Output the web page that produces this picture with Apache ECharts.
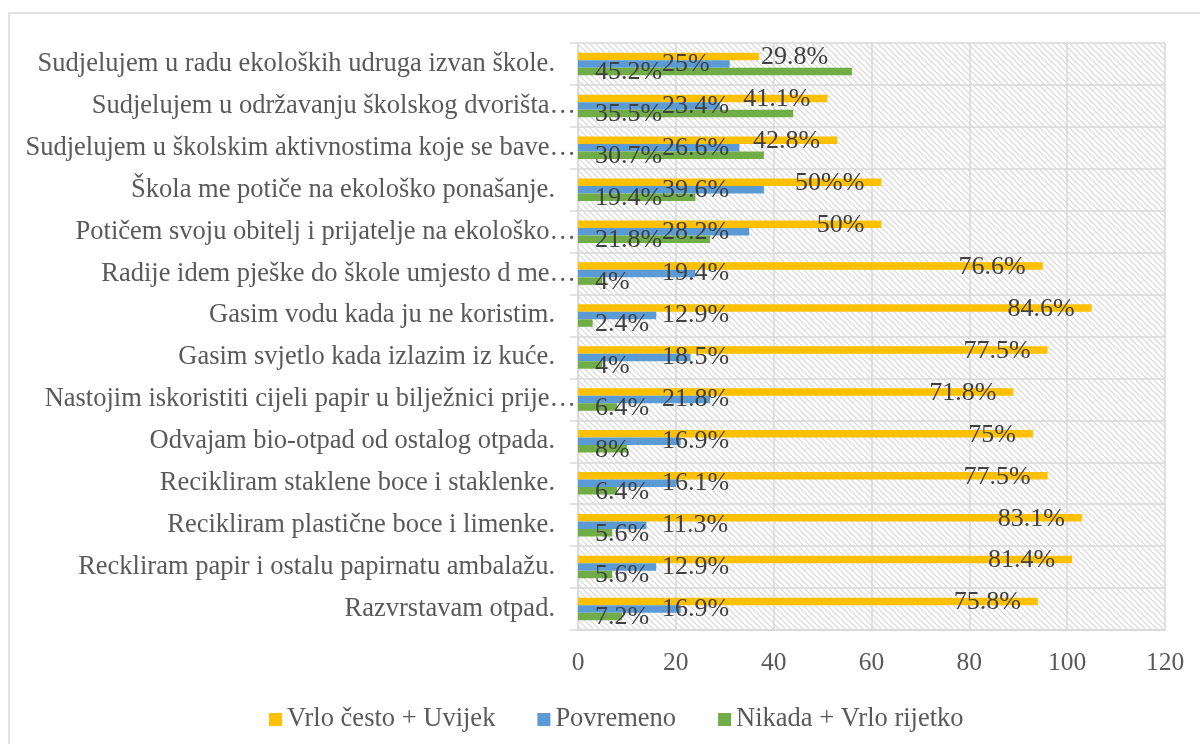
<!DOCTYPE html>
<html>
<head>
<meta charset="utf-8">
<script src="https://cdn.jsdelivr.net/npm/echarts@6/dist/echarts.min.js"></script>
<style>
  html, body { margin: 0; padding: 0; background: #fff; }
  #chart { width: 1200px; height: 744px; }
</style>
</head>
<body>
<div id="chart"></div>
<script>
// categories, top to bottom
var categories = [
  'Sudjelujem u radu ekoloških udruga izvan škole.',
  'Sudjelujem u održavanju školskog dvorišta…',
  'Sudjelujem u školskim aktivnostima koje se bave…',
  'Škola me potiče na ekološko ponašanje.',
  'Potičem svoju obitelj i prijatelje na ekološko…',
  'Radije idem pješke do škole umjesto d me…',
  'Gasim vodu kada ju ne koristim.',
  'Gasim svjetlo kada izlazim iz kuće.',
  'Nastojim iskoristiti cijeli papir u bilježnici prije…',
  'Odvajam bio-otpad od ostalog otpada.',
  'Recikliram staklene boce i staklenke.',
  'Recikliram plastične boce i limenke.',
  'Reckliram papir i ostalu papirnatu ambalažu.',
  'Razvrstavam otpad.'
];

var seriesNames = ['Vrlo često + Uvijek', 'Povremeno', 'Nikada + Vrlo rijetko'];

// bar lengths (number of answers)
var oftenValues = [37, 51, 53, 62, 62, 95, 105, 96, 89, 93, 96, 103, 101, 94];
var sometimesValues = [31, 29, 33, 38, 35, 24, 16, 23, 27, 21, 20, 14, 16, 21];
var rarelyValues = [56, 44, 38, 24, 27, 5, 3, 5, 8, 10, 8, 7, 7, 9];

// data label texts as printed on the chart
var oftenLabels = ['29.8%', '41.1%', '42.8%', '50%%', '50%', '76.6%', '84.6%', '77.5%', '71.8%', '75%', '77.5%', '83.1%', '81.4%', '75.8%'];
var sometimesLabels = ['25%', '23.4%', '26.6%', '39.6%', '28.2%', '19.4%', '12.9%', '18.5%', '21.8%', '16.9%', '16.1%', '11.3%', '12.9%', '16.9%'];
var rarelyLabels = ['45.2%', '35.5%', '30.7%', '19.4%', '21.8%', '4%', '2.4%', '4%', '6.4%', '8%', '6.4%', '5.6%', '5.6%', '7.2%'];

var xTicks = [0, 20, 40, 60, 80, 100, 120];

var FONT = '"Liberation Serif", "Times New Roman", serif';
var GRID_COLOR = '#d9d9d9';
var TEXT_COLOR = '#595959';

// diagonal hatch for the plot area
var hatch = document.createElement('canvas');
hatch.width = 6;
hatch.height = 6;
var hc = hatch.getContext('2d');
hc.fillStyle = '#ffffff';
hc.fillRect(0, 0, 6, 6);
hc.strokeStyle = '#d6d6d6';
hc.lineWidth = 1.2;
hc.beginPath();
hc.moveTo(-1, -1); hc.lineTo(7, 7);
hc.moveTo(-1, 5); hc.lineTo(1, 7);
hc.moveTo(5, -1); hc.lineTo(7, 1);
hc.stroke();

var chart = echarts.init(document.getElementById('chart'), null, { renderer: 'canvas' });

function labelFor(texts) {
  return function (p) { return texts[p.dataIndex]; };
}

var labelText = {
  fontFamily: FONT,
  fontSize: 26,
  color: '#404040'
};

var catText = { fontFamily: FONT, fontSize: 26.5, color: TEXT_COLOR };

chart.setOption({
  animation: false,
  textStyle: { fontFamily: FONT },
  graphic: [{
    type: 'rect',
    shape: { x: 9, y: 13, width: 1250, height: 800 },
    style: { fill: 'none', stroke: GRID_COLOR, lineWidth: 1.5 },
    silent: true
  }],
  legend: {
    data: seriesNames,
    top: 701,
    left: 264,
    itemWidth: 13,
    itemHeight: 13,
    itemGap: 42,
    icon: 'rect',
    textStyle: { fontFamily: FONT, fontSize: 26.5, color: TEXT_COLOR }
  },
  grid: {
    left: 578,
    right: 35,
    top: 43,
    bottom: 114,
    show: true,
    borderWidth: 0,
    backgroundColor: { image: hatch, repeat: 'repeat' }
  },
  xAxis: {
    type: 'value',
    min: 0,
    max: 120,
    interval: 20,
    axisLine: { show: true, lineStyle: { color: GRID_COLOR, width: 1.5 } },
    axisTick: { show: false },
    splitLine: { show: true, lineStyle: { color: GRID_COLOR, width: 1.5 } },
    axisLabel: {
      margin: 20,
      fontFamily: FONT,
      fontSize: 25.5,
      color: TEXT_COLOR,
      formatter: function (v) { return xTicks.indexOf(v) >= 0 ? String(v) : ''; }
    }
  },
  yAxis: {
    type: 'category',
    inverse: true,
    data: categories,
    axisLine: { show: true, lineStyle: { color: GRID_COLOR, width: 1.5 } },
    axisTick: { show: true, length: 8, lineStyle: { color: GRID_COLOR, width: 1.5 } },
    splitLine: { show: true, lineStyle: { color: GRID_COLOR, width: 1.5 } },
    axisLabel: {
      margin: 2,
      fontFamily: FONT,
      fontSize: 26.5,
      color: TEXT_COLOR,
      // cut-off names run up to the axis, full names stop a bit earlier
      formatter: function (v) {
        return /…$/.test(v) ? '{cut|' + v + '}' : '{full|' + v + '}';
      },
      rich: {
        cut: catText,
        full: Object.assign({ padding: [0, 21, 0, 0] }, catText)
      }
    }
  },
  series: [
    {
      name: seriesNames[0],
      type: 'bar',
      data: oftenValues.map(function (v) {
        // the shortest bar has its label outside the end
        return v < 40
          ? { value: v, label: { position: 'right', distance: 2 } }
          : v;
      }),
      itemStyle: { color: '#ffc000' },
      barWidth: 7.5,
      barGap: '0%',
      label: Object.assign({
        show: true,
        position: 'insideRight',
        distance: 17,
        offset: [0, 1],
        formatter: labelFor(oftenLabels)
      }, labelText)
    },
    {
      name: seriesNames[1],
      type: 'bar',
      data: sometimesValues,
      itemStyle: { color: '#5b9bd5' },
      barWidth: 7.5,
      barGap: '0%',
      label: Object.assign({
        show: true,
        position: 'insideLeft',
        distance: 84,
        offset: [0, 0],
        formatter: labelFor(sometimesLabels)
      }, labelText)
    },
    {
      name: seriesNames[2],
      type: 'bar',
      data: rarelyValues,
      itemStyle: { color: '#70ad47' },
      barWidth: 7.5,
      barGap: '0%',
      label: Object.assign({
        show: true,
        position: 'insideLeft',
        distance: 17,
        offset: [0, 1],
        formatter: labelFor(rarelyLabels)
      }, labelText)
    }
  ]
});

window.addEventListener('resize', function () {
  chart.resize();
});
</script>
</body>
</html>
